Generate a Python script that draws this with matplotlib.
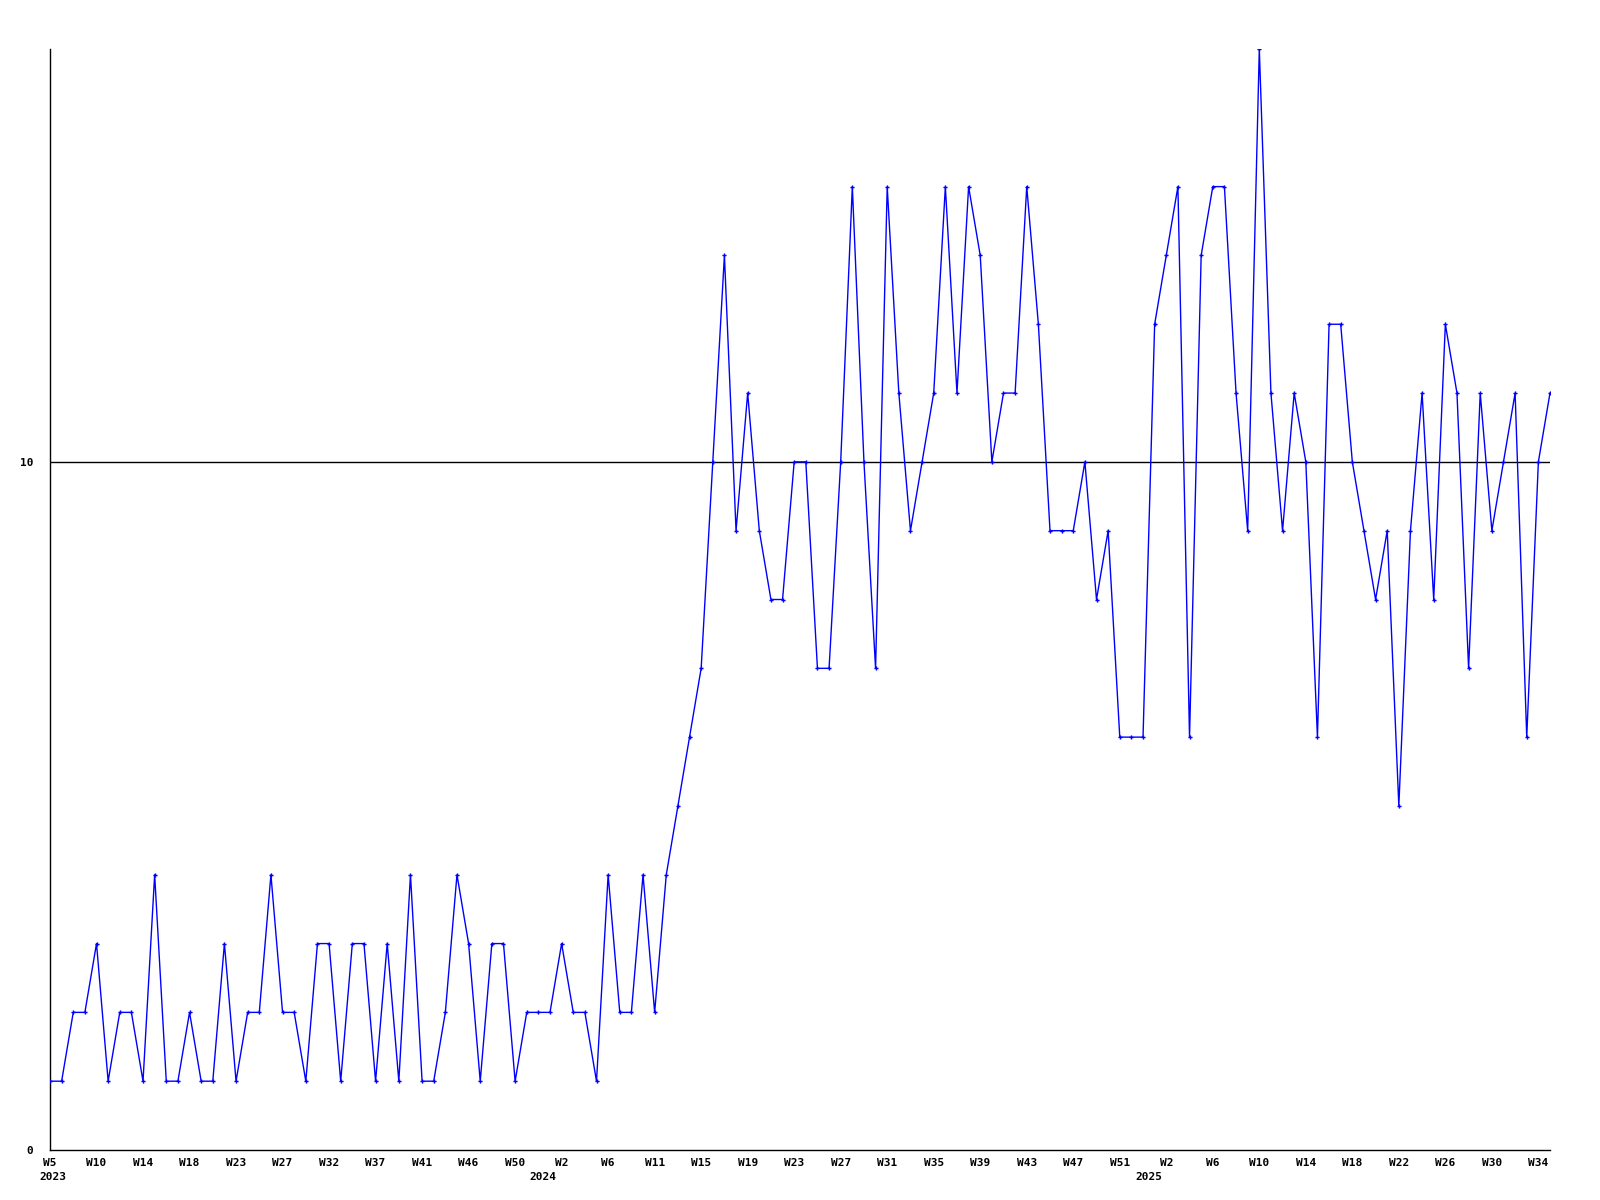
import matplotlib
matplotlib.use("Agg")
import matplotlib.pyplot as plt
import numpy as np

# Weekly values (one per point)
values = [1, 1, 2, 2, 3, 1, 2, 2, 1, 4,
          1, 1, 2, 1, 1, 3, 1, 2, 2, 4,
          2, 2, 1, 3, 3, 1, 3, 3, 1, 3,
          1, 4, 1, 1, 2, 4, 3, 1, 3, 3,
          1, 2, 2, 2, 3, 2, 2, 1, 4, 2,
          2, 4, 2, 4, 5, 6, 7, 10, 13, 9,
          11, 9, 8, 8, 10, 10, 7, 7, 10, 14,
          10, 7, 14, 11, 9, 10, 11, 14, 11, 14,
          13, 10, 11, 11, 14, 12, 9, 9, 9, 10,
          8, 9, 6, 6, 6, 12, 13, 14, 6, 13,
          14, 14, 11, 9, 16, 11, 9, 11, 10, 6,
          12, 12, 10, 9, 8, 9, 5, 9, 11, 8,
          12, 11, 7, 11, 9, 10, 11, 6, 10, 11]

week_labels = ["W5", "W10", "W14", "W18", "W23", "W27", "W32", "W37", "W41",
               "W46", "W50", "W2", "W6", "W11", "W15", "W19", "W23", "W27",
               "W31", "W35", "W39", "W43", "W47", "W51", "W2", "W6", "W10",
               "W14", "W18", "W22", "W26", "W30", "W34"]
year_labels = ["2023", "2024", "2025"]
year_label_pos = [0.25, 42.4, 94.5]

y_ticks = [0, 10]
reference_level = 10

x = np.arange(len(values))

fig = plt.figure(figsize=(16, 12), dpi=100)
ax = fig.add_axes([50 / 1600, 1 - 1150 / 1200, 1500 / 1600, (1150 - 49) / 1200])

ax.plot(x, values, color="#0000ff", linewidth=1.0, marker="P",
        markersize=3, markeredgewidth=0, zorder=3)
ax.axhline(reference_level, color="black", linewidth=1.0, zorder=2)

ax.set_xlim(0, len(values) - 1)
ax.set_ylim(0, 16)

for s in ["top", "right"]:
    ax.spines[s].set_visible(False)
for s in ["left", "bottom"]:
    ax.spines[s].set_color("black")
    ax.spines[s].set_linewidth(1.0)

font = dict(family="DejaVu Sans Mono", weight="bold", size=8)

ax.set_yticks(y_ticks)
ax.set_yticklabels([str(v) for v in y_ticks], **font)
ax.tick_params(axis="y", length=0, pad=12)

tick_pos = np.arange(0, len(week_labels) * 4, 4)
ax.set_xticks(tick_pos)
ax.set_xticklabels(week_labels, **font)
ax.tick_params(axis="x", length=0, pad=6)

for lbl, pos in zip(year_labels, year_label_pos):
    ax.annotate(lbl, xy=(pos, 0), xycoords=("data", "axes fraction"),
                xytext=(0, -16), textcoords="offset points",
                ha="center", va="top", **font)

fig.savefig("out.png", dpi=100, facecolor="white")
